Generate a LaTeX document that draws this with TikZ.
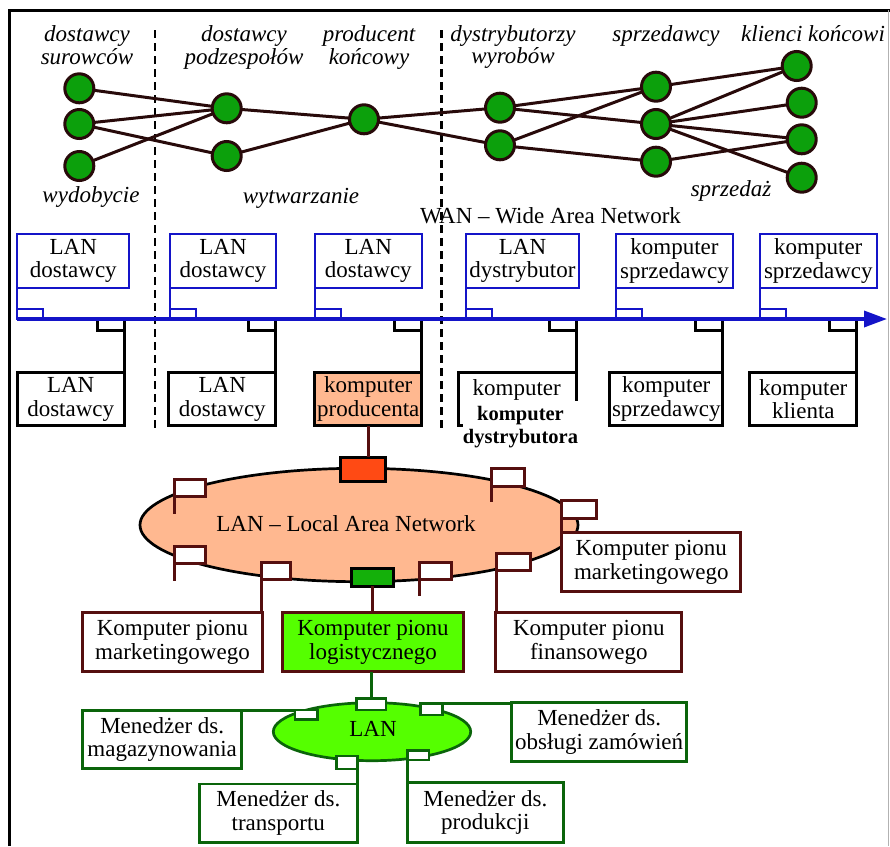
\documentclass[tikz,border=0pt]{standalone}
\usepackage{fontspec}
\setmainfont{Liberation Serif}
\usetikzlibrary{arrows.meta,shapes.geometric}

\definecolor{netgreen}{RGB}{12,160,12}
\definecolor{netedge}{RGB}{40,10,10}
\definecolor{wanblue}{RGB}{20,20,200}
\definecolor{peach}{RGB}{255,184,144}
\definecolor{portred}{RGB}{255,74,20}
\definecolor{portgreen}{RGB}{20,176,10}
\definecolor{lime}{RGB}{85,255,0}
\definecolor{brownline}{RGB}{85,15,15}
\definecolor{darkgreen}{RGB}{10,100,10}

\newcommand\bodysize{\fontsize{23}{23.5}\selectfont}
\newcommand\tiersize{\fontsize{23}{22.5}\selectfont\itshape}

\begin{document}
\begin{tikzpicture}[x=1pt,y=-1pt,
  every node/.style={inner sep=0pt, outer sep=0pt},
  sz/.style 2 args={minimum width=#1pt, minimum height=#2pt},
  hub/.style={circle, draw=netedge, fill=netgreen, line width=3pt, minimum size=29pt},
  link/.style={draw=netedge, line width=3pt},
  tier/.style={font=\tiersize, align=center},
  txt/.style={font=\bodysize, align=center},
  wanbox/.style={txt, rectangle, draw=wanblue, fill=white, line width=2.3pt},
  wanport/.style={rectangle, draw=wanblue, fill=white, line width=2.3pt, sz={26}{10}},
  wanline/.style={draw=wanblue, line width=2.3pt},
  hostbox/.style={txt, rectangle, draw=black, fill=white, line width=3pt},
  hostport/.style={rectangle, draw=black, fill=white, line width=3pt, sz={27}{11}},
  hostline/.style={draw=black, line width=3pt},
  flag/.style={rectangle, draw=brownline, fill=white, line width=3pt},
  stem/.style={draw=brownline, line width=3pt},
  pionbox/.style={txt, rectangle, draw=brownline, fill=white, line width=3pt},
  mgrbox/.style={txt, rectangle, draw=darkgreen, fill=white, line width=2.7pt},
  gport/.style={rectangle, draw=darkgreen, fill=white, line width=2.7pt},
  gstem/.style={draw=darkgreen, line width=2.7pt},
  divider/.style={draw=black, line width=2.5pt, dash pattern=on 8pt off 5pt}
]
\useasboundingbox (0,0) rectangle (890,846);

% frame
\draw[line width=3pt] (9,846) -- (9,10) -- (890,10);
\draw[line width=0.8pt, black!30] (888,10) -- (888,846);

% tier dividers
\draw[divider] (155,30) -- (155,428);
\draw[divider] (441.7,30) -- (441.7,428);

% supply chain tiers
\node[tier] (l1) at (87,45) {dostawcy\\surowców};
\node[tier] (l2) at (244,47.5) {dostawcy\\podzespołów};
\node[tier] (l3) at (369,47.5) {producent\\końcowy};
\node[tier] (l4) at (513,47) {dystrybutorzy\\wyrobów};
\node[tier] (l5) at (666,36.5) {sprzedawcy};
\node[tier] (l6) at (813,34) {klienci końcowi};
\node[tier] (l7) at (91,197) {wydobycie};
\node[tier] (l8) at (301,198) {wytwarzanie};
\node[tier] (l9) at (731,191) {sprzedaż};

\node[hub] (a1) at (79.3,88.3) {};
\node[hub] (a2) at (79.3,124) {};
\node[hub] (a3) at (79.3,166) {};
\node[hub] (b1) at (226.7,108.3) {};
\node[hub] (b2) at (226.7,156) {};
\node[hub] (c)  at (364,119.3) {};
\node[hub] (d1) at (500,107.7) {};
\node[hub] (d2) at (500,145.3) {};
\node[hub] (e1) at (656,86.7) {};
\node[hub] (e2) at (656,124) {};
\node[hub] (e3) at (656,161.7) {};
\node[hub] (k1) at (796.7,66) {};
\node[hub] (k2) at (801.7,102.7) {};
\node[hub] (k3) at (801.7,139.3) {};
\node[hub] (k4) at (801.7,177.7) {};
\foreach \u/\v in {a1/b1,a2/b1,a3/b1,a2/b2,b1/c,b2/c,c/d1,c/d2,d1/e1,d1/e2,
                   d2/e1,d2/e3,e1/k1,e2/k1,e2/k2,e2/k3,e2/k4,e3/k3}
  \draw[link] (\u) -- (\v);

% wide area network
\node[txt] (wan) at (550.5,215.7) {WAN – Wide Area Network};
\coordinate (busL) at (17.3,319);
\coordinate (busR) at (887,319);

\node[wanbox, sz={112}{54}]   (t1) at (73.3,261)  {LAN\\dostawcy};
\node[wanbox, sz={106}{54}]   (t2) at (223,261)   {LAN\\dostawcy};
\node[wanbox, sz={106.7}{54}] (t3) at (368.3,261) {LAN\\dostawcy};
\node[wanbox, sz={113}{54}]   (t4) at (522.5,261) {LAN\\dystrybutor};
\node[wanbox, sz={117.6}{54}] (t5) at (674.5,261) {komputer\\sprzedawcy};
\node[wanbox, sz={116.7}{54}] (t6) at (818.3,261) {komputer\\sprzedawcy};
\foreach \t in {t1,t2,t3,t4,t5,t6}{
  \draw[wanline] (\t.south west) -- (\t.south west |- busL);
  \node[wanport, anchor=south west] (\t p) at (\t.south west |- busL) {};
}

\node[hostbox, sz={106.7}{53}] (h1) at (70.7,399.2)  {LAN\\dostawcy};
\node[hostbox, sz={106.7}{53}] (h2) at (222.3,399.2) {LAN\\dostawcy};
\node[hostbox, sz={106.7}{53}, fill=peach] (h3) at (368.3,399.2) {komputer\\producenta};
\node[hostbox, sz={118.4}{53}] (h4) at (517.5,399.2) {};
\node[hostbox, sz={112.7}{53}] (h5) at (666.3,399.2) {komputer\\sprzedawcy};
\node[hostbox, sz={106.7}{53}] (h6) at (803.3,399.2) {komputer\\klienta};
\foreach \h in {h1,h2,h3,h4,h5,h6}{
  \draw[hostline] (\h.north east) -- (\h.north east |- busL);
  \node[hostport, anchor=north east] (\h p) at (\h.north east |- busL) {};
}
\node[txt] (h4txt) at (516.7,390) {komputer};
\node[fill=white, sz={115}{53}, align=center,
      font=\fontsize{20.5}{23}\selectfont\bfseries] (distr) at (520.5,427.5)
      {komputer\\dystrybutora};

\draw[wanblue, line width=3.5pt, -{Triangle[length=23pt,width=16pt]}] (busL) -- (busR);

% producer's local area network
\node[ellipse, draw=black, fill=peach, line width=2.7pt, sz={438}{113.4}] (lan) at (359,525) {};
\node[txt] (lantxt) at (346,523.3) {LAN – Local Area Network};
\node[rectangle, draw=black, fill=portred, line width=3pt, sz={45}{24.4}] (redc) at (362.5,469.5) {};
\draw[stem] (h3.south) -- (h3.south |- redc.north);
\node[rectangle, draw=black, fill=portgreen, line width=3pt, sz={41.6}{17.7}] (grnc) at (372.5,577.2) {};

\node[flag, sz={30.7}{17.4}] (p1) at (189.7,488) {};
\draw[stem] (p1.south west) -- ++(0,17.3);
\node[flag, sz={30.7}{17.4}] (p2) at (189.7,554.7) {};
\draw[stem] (p2.south west) -- ++(0,17.4);
\node[flag, sz={29.3}{17.3}] (p3) at (276.3,571.3) {};
\node[flag, sz={31.7}{17.3}] (p4) at (435.8,571.3) {};
\draw[stem] (p4.south west) -- ++(0,16);
\node[flag, sz={33.3}{17.7}] (p5) at (508.3,477.8) {};
\draw[stem] (p5.south west) -- ++(0,15);
\node[flag, sz={34}{17}] (p6) at (513,561.5) {};
\node[flag, sz={35}{17.6}] (p7) at (579.2,509.5) {};

\node[pionbox, sz={179.6}{59}] (mktl) at (172.5,642.2) {Komputer pionu\\marketingowego};
\node[pionbox, sz={180.6}{59}, fill=lime] (logi) at (373,642.2) {Komputer pionu\\logistycznego};
\node[pionbox, sz={185.7}{59}] (fin) at (588.8,642.2) {Komputer pionu\\finansowego};
\node[pionbox, sz={179.3}{59}] (mktr) at (651.3,562.2) {Komputer pionu\\marketingowego};
\draw[stem] (p3.south west) -- (p3.south west |- mktl.north);
\draw[stem] (p6.south west) -- (p6.south west |- fin.north);
\draw[stem] (p7.south west) -- (p7.south west |- mktr.north);
\draw[stem] (grnc.south) -- (grnc.south |- logi.north);

% logistics local network
\node[ellipse, draw=darkgreen, fill=lime, line width=2.7pt, sz={197.4}{58}] (glan) at (372,731.7) {};
\node[txt] (glantxt) at (373,729) {LAN};
\node[gport, sz={29.3}{11.7}] (g0) at (371.3,704.2) {};
\draw[gstem] (g0.north) -- (g0.north |- logi.south);
\node[gport, sz={22.3}{9.3}]  (g1) at (306.2,714.7) {};
\node[gport, sz={21.6}{11.7}] (g2) at (431.5,709.2) {};
\node[gport, sz={20.6}{13}]   (g3) at (347,762.5) {};
\node[gport, sz={21.7}{9.3}]  (g4) at (418.2,755.3) {};

\node[mgrbox, sz={159}{57.6}] (mag)  at (162.2,739.5) {Menedżer ds.\\magazynowania};
\node[mgrbox, sz={175}{59}]   (obs)  at (599.2,732.2) {Menedżer ds.\\obsługi zamówień};
\node[mgrbox, sz={158}{58.3}] (trn)  at (278.3,813.2) {Menedżer ds.\\transportu};
\node[mgrbox, sz={156}{59.6}] (prod) at (485.3,812.5) {Menedżer ds.\\produkcji};
\draw[gstem] (mag.north east) -- (mag.north east -| g1.west);
\draw[gstem] (g2.north west) -- (g2.north west -| obs.west);
\draw[gstem] (g3.south east) -- (g3.south east |- trn.north);
\draw[gstem] (g4.south west) -- (g4.south west |- prod.north);
\end{tikzpicture}
\end{document}
